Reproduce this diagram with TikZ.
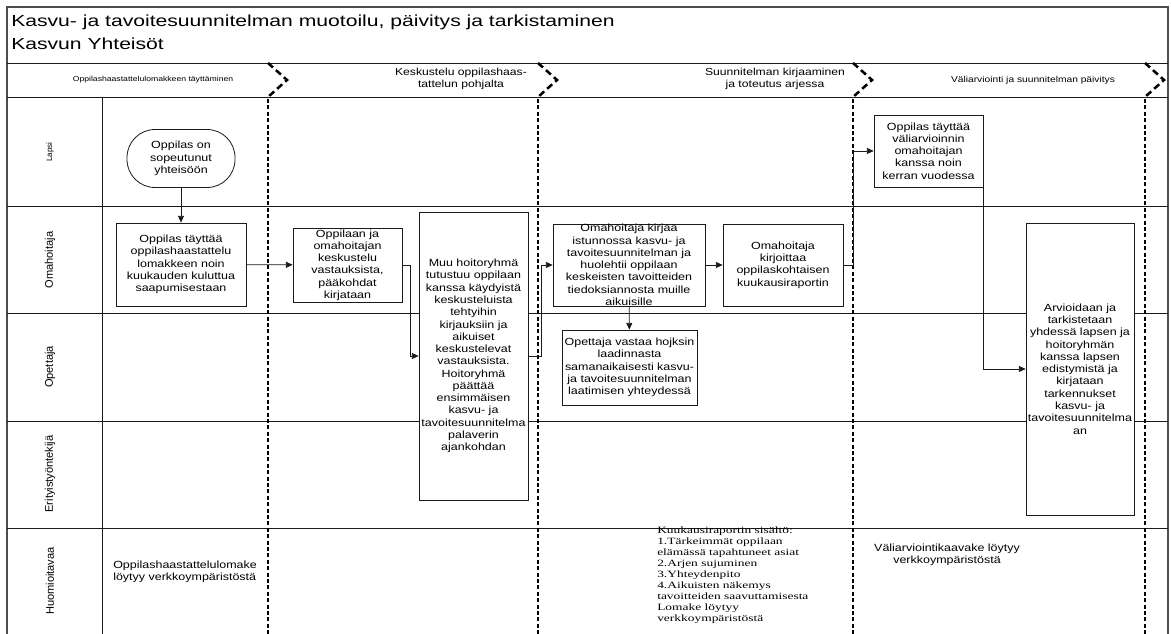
\documentclass[tikz,border=0pt]{standalone}
\usepackage{fontspec}
\setmainfont{Liberation Sans}[FakeStretch=1.2]
\newfontfamily\titlefont{Liberation Sans}[FakeStretch=1.32]
\newfontfamily\notefont{Liberation Serif}[FakeStretch=1.4]
\newfontfamily\lanefont{Liberation Sans}
\usetikzlibrary{positioning, calc, arrows.meta}
\definecolor{Dark}{HTML}{1A1A1A}
\definecolor{Frame}{HTML}{4D4D4D}
\tikzset{
    stepbox/.style={rectangle, draw=Dark, fill=white, line width=0.6pt, align=center, inner xsep=1pt, inner ysep=0pt, font=\fontsize{7.8}{9.2}\selectfont},
    startnode/.style={stepbox, rounded corners=21pt},
    flow/.style={-{Triangle[length=5pt, width=4.5pt]}, line width=0.5pt, color=Dark},
    lane/.style={line width=0.7pt, color=Dark},
    phasesep/.style={line width=1.9pt, color=black, dash pattern=on 3pt off 1.8pt},
    chevron/.style={line width=1.9pt, color=black, dash pattern=on 5pt off 3pt},
    lanelabel/.style={rotate=90, font=\lanefont\fontsize{8.3}{9}\selectfont},
    phaselabel/.style={align=center, font=\fontsize{7}{9}\selectfont},
    notetext/.style={align=left, anchor=west, inner sep=0pt, font=\fontsize{7.8}{9.2}\selectfont},
}
\begin{document}
\begin{tikzpicture}[x=0.75pt, y=-0.75pt]
    \useasboundingbox (0,0) rectangle (1171,634);

    % Kehys
    \draw[line width=1pt, Frame] (7,634) -- (7,7) -- (1168,7) -- (1168,634);
    \node[anchor=base west, inner sep=0pt, font=\titlefont\fontsize{12}{13}\selectfont] (title) at (11,27) {Kasvu- ja tavoitesuunnitelman muotoilu, päivitys ja tarkistaminen};
    \node[anchor=base west, inner sep=0pt, font=\titlefont\fontsize{12}{13}\selectfont] (org) at (11,50) {Kasvun Yhteisöt};

    % Kaistat
    \foreach \y in {63,97,206,313,421,528} \draw[lane] (7,\y) -- (1168,\y);
    \draw[lane] (102,97) -- (102,634);

    % Vaiheiden rajat
    \foreach \x in {268,538,853,1145} {
        \draw[chevron] (\x,63) -- (\x+19,80) -- (\x,97);
        \draw[phasesep] (\x,99) -- (\x,634);
    }

    % Vaiheet
    \node[phaselabel, font=\fontsize{5.4}{7}\selectfont] (ph1) at (153,80) {Oppilashaastattelulomakkeen täyttäminen};
    \node[phaselabel, font=\fontsize{7.6}{9.4}\selectfont] (ph2) at (461,79) {Keskustelu oppilashaas-\\tattelun pohjalta};
    \node[phaselabel, font=\fontsize{7.6}{9.4}\selectfont] (ph3) at (775,79) {Suunnitelman kirjaaminen\\ja toteutus arjessa};
    \node[phaselabel, font=\fontsize{6.4}{8}\selectfont] (ph4) at (1033,80) {Väliarviointi ja suunnitelman päivitys};

    % Roolit
    \node[lanelabel, font=\lanefont\fontsize{6}{7}\selectfont] (lapsi) at (50,152) {Lapsi};
    \node[lanelabel] (omahoitaja) at (50,260) {Omahoitaja};
    \node[lanelabel] (opettaja) at (50,367) {Opettaja};
    \node[lanelabel] (erityis) at (50,474) {Erityistyöntekijä};
    \node[lanelabel] (huom) at (50,581) {Huomioitavaa};

    % Laatikot
    \node[startnode, minimum width=81pt, minimum height=43.5pt] (start) at (181,158.5) {Oppilas on\\sopeutunut\\yhteisöön};
    \node[stepbox, minimum width=97.5pt, minimum height=62.25pt] (b1) at (181,264.5) {Oppilas täyttää\\oppilashaastattelu\\lomakkeen noin\\kuukauden kuluttua\\saapumisestaan};
    \node[stepbox, minimum width=81.75pt, minimum height=55.5pt] (b2) at (347.5,265) {Oppilaan ja\\omahoitajan\\keskustelu\\vastauksista,\\pääkohdat\\kirjataan};
    \node[stepbox, minimum width=81.75pt, minimum height=216pt] (b3) at (473.5,356) {Muu hoitoryhmä\\tutustuu oppilaan\\kanssa käydyistä\\keskusteluista\\tehtyihin\\kirjauksiin ja\\aikuiset\\keskustelevat\\vastauksista.\\Hoitoryhmä\\päättää\\ensimmäisen\\kasvu- ja\\tavoitesuunnitelma\\palaverin\\ajankohdan};
    \node[stepbox, minimum width=114pt, minimum height=61.5pt] (b4) at (629,265) {Omahoitaja kirjaa\\istunnossa kasvu- ja\\tavoitesuunnitelman ja\\huolehtii oppilaan\\keskeisten tavoitteiden\\tiedoksiannosta muille\\aikuisille};
    \node[stepbox, minimum width=90pt, minimum height=61.5pt] (b5) at (783,265) {Omahoitaja\\kirjoittaa\\oppilaskohtaisen\\kuukausiraportin};
    \node[stepbox, minimum width=101.25pt, minimum height=56.25pt] (b6) at (629.5,367.5) {Opettaja vastaa hojksin\\laadinnasta\\samanaikaisesti kasvu-\\ja tavoitesuunnitelman\\laatimisen yhteydessä};
    \node[stepbox, minimum width=81.75pt, minimum height=54pt] (b7) at (928.5,151) {Oppilas täyttää\\väliarvioinnin\\omahoitajan\\kanssa noin\\kerran vuodessa};
    \node[stepbox, minimum width=81pt, minimum height=219pt] (b8) at (1080,369) {Arvioidaan ja\\tarkistetaan\\yhdessä lapsen ja\\hoitoryhmän\\kanssa lapsen\\edistymistä ja\\kirjataan\\tarkennukset\\kasvu- ja\\tavoitesuunnitelma\\an};

    % Nuolet
    \draw[flow] (start) -- (b1);
    \draw[flow] (b1) -- (b2);
    \draw[flow] (b2.east) -- ++(8,0) |- (b3.west);
    \draw[flow] (b3.east) -- ++(13,0) |- (b4.west);
    \draw[flow] (b4) -- (b5);
    \draw[flow] (b4) -- (b6);
    \draw[flow] (b5.east) -- ++(10,0) |- (b7.west);
    \draw[flow] (b7.south east) |- (b8.west);

    % Huomiot
    \node[notetext] (note1) at (113,572) {Oppilashaastattelulomake\\löytyy verkkoympäristöstä};
    \node[notetext, anchor=north west, font=\notefont\fontsize{7.2}{8.25}\selectfont] (note2) at (657,527) {Kuukausiraportin sisältö:\\1.Tärkeimmät oppilaan\\elämässä tapahtuneet asiat\\2.Arjen sujuminen\\3.Yhteydenpito\\4.Aikuisten näkemys\\tavoitteiden saavuttamisesta\\Lomake löytyy\\verkkoympäristöstä};
    \node[notetext, anchor=center, align=center] (note3) at (947,555) {Väliarviointikaavake löytyy\\verkkoympäristöstä};
\end{tikzpicture}
\end{document}
